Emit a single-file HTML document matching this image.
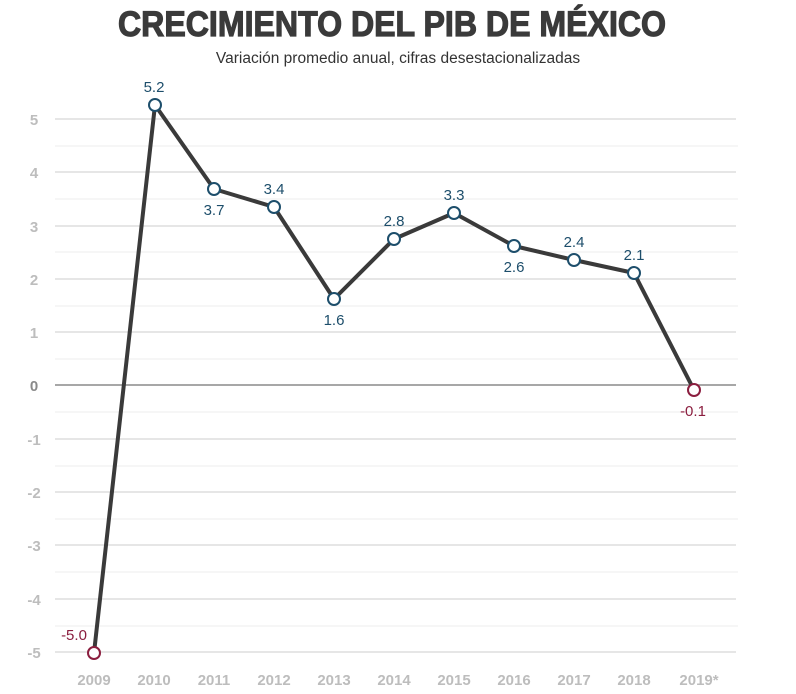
<!DOCTYPE html>
<html><head><meta charset="utf-8"><style>
html,body{margin:0;padding:0;background:#fff;}
svg{display:block;font-family:"Liberation Sans","DejaVu Sans",sans-serif;}
</style></head><body>
<svg width="796" height="694" viewBox="0 0 796 694">
<text x="392" y="36" text-anchor="middle" font-size="35" font-weight="bold" fill="#3a3a3a" stroke="#3a3a3a" stroke-width="1.2" textLength="548" lengthAdjust="spacingAndGlyphs">CRECIMIENTO DEL PIB DE MÉXICO</text>
<text x="398" y="63" text-anchor="middle" font-size="15.5" fill="#333">Variación promedio anual, cifras desestacionalizadas</text>
<g stroke="#ececec" stroke-width="1">
<line x1="55" x2="738" y1="146" y2="146"/><line x1="55" x2="738" y1="199" y2="199"/><line x1="55" x2="738" y1="252" y2="252"/><line x1="55" x2="738" y1="306" y2="306"/><line x1="55" x2="738" y1="359" y2="359"/><line x1="55" x2="738" y1="412" y2="412"/><line x1="55" x2="738" y1="466" y2="466"/><line x1="55" x2="738" y1="519" y2="519"/><line x1="55" x2="738" y1="572" y2="572"/><line x1="55" x2="738" y1="626" y2="626"/>
</g>
<g stroke="#d6d6d6" stroke-width="1.2">
<line x1="55" x2="736" y1="119" y2="119"/><line x1="55" x2="736" y1="172" y2="172"/><line x1="55" x2="736" y1="226" y2="226"/><line x1="55" x2="736" y1="279" y2="279"/><line x1="55" x2="736" y1="332" y2="332"/><line x1="55" x2="736" y1="439" y2="439"/><line x1="55" x2="736" y1="492" y2="492"/><line x1="55" x2="736" y1="545" y2="545"/><line x1="55" x2="736" y1="599" y2="599"/><line x1="55" x2="736" y1="652" y2="652"/>
</g>
<line x1="55" x2="736" y1="385" y2="385" stroke="#8a8a8a" stroke-width="1.5"/>
<g font-size="15" font-weight="bold" fill="#bdbdbd" text-anchor="middle">
<text x="34" y="125">5</text><text x="34" y="178">4</text><text x="34" y="232">3</text><text x="34" y="285">2</text><text x="34" y="338">1</text><text x="34" y="391" fill="#8a8a8a">0</text><text x="34" y="445">-1</text><text x="34" y="498">-2</text><text x="34" y="551">-3</text><text x="34" y="605">-4</text><text x="34" y="658">-5</text>
<text x="94" y="685">2009</text><text x="154" y="685">2010</text><text x="214" y="685">2011</text><text x="274" y="685">2012</text><text x="334" y="685">2013</text><text x="394" y="685">2014</text><text x="454" y="685">2015</text><text x="514" y="685">2016</text><text x="574" y="685">2017</text><text x="634" y="685">2018</text><text x="699" y="685">2019*</text>
</g>
<polyline fill="none" stroke="#3a3a3a" stroke-width="4" stroke-linejoin="round" points="94,653 155,105 214,189 274,207 334,299 394,239 454,213 514,246 574,260 634,273 694,390"/>
<g fill="#fff" stroke="#1d4e6b" stroke-width="2">
<circle cx="155" cy="105" r="6"/><circle cx="214" cy="189" r="6"/><circle cx="274" cy="207" r="6"/><circle cx="334" cy="299" r="6"/><circle cx="394" cy="239" r="6"/><circle cx="454" cy="213" r="6"/><circle cx="514" cy="246" r="6"/><circle cx="574" cy="260" r="6"/><circle cx="634" cy="273" r="6"/>
</g>
<g fill="#fff" stroke="#8b1e3f" stroke-width="2"><circle cx="94" cy="653" r="6"/><circle cx="694" cy="390" r="6"/></g>
<g font-size="15" fill="#1d4e6b" text-anchor="middle">
<text x="154" y="92">5.2</text><text x="214" y="215">3.7</text><text x="274" y="194">3.4</text><text x="334" y="325">1.6</text><text x="394" y="226">2.8</text><text x="454" y="200">3.3</text><text x="514" y="272">2.6</text><text x="574" y="247">2.4</text><text x="634" y="260">2.1</text>
</g>
<g font-size="15" fill="#8b1e3f" text-anchor="middle"><text x="74" y="640">-5.0</text><text x="693" y="416">-0.1</text></g>
</svg>
</body></html>
